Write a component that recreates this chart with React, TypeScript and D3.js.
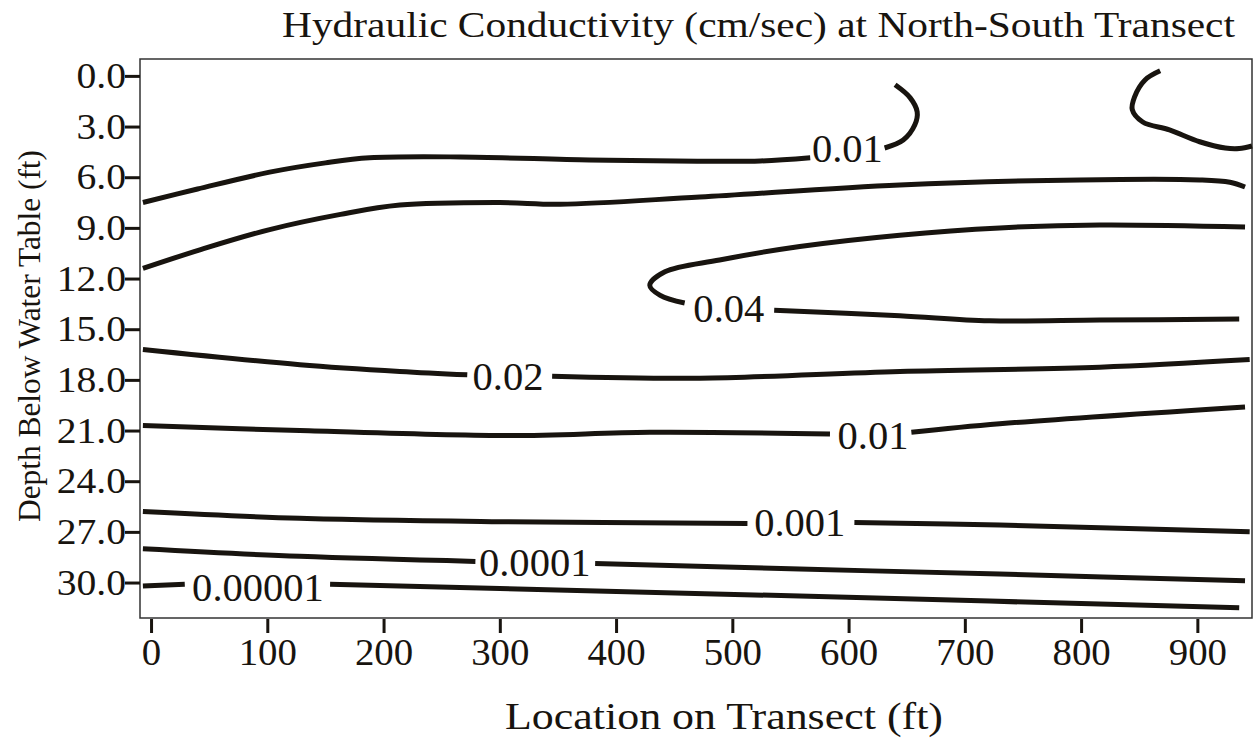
import React, { useRef, useEffect } from 'react';
import * as d3 from 'd3';

// contour pieces: [location ft, depth ft]
const line001Upper = [
  [[-7, 7.5], [40, 6.7], [102, 5.7], [150, 5.15], [188, 4.85], [266, 4.8], [377, 4.98], [470, 5.05], [524, 5.04], [567, 4.85]],
  [[631, 4.27], [647, 3.8], [657, 2.9], [659, 2.13], [653, 1.3], [640, 0.53]],
];
const lineTopRight = [
  [[868, -0.3], [855, 0.24], [846, 1.24], [844, 2.0], [853, 2.73], [876, 3.2], [902, 3.9], [924, 4.27], [936, 4.3], [947, 4.15]],
];
const lineUpperMid = [
  [[-7, 11.4], [42, 10.3], [102, 9.1], [163, 8.2], [214, 7.65], [300, 7.5], [352, 7.6], [472, 7.17], [644, 6.46], [799, 6.16], [902, 6.16], [928, 6.3], [941, 6.58]],
];
const line004 = [
  [[941, 8.95], [816, 8.83], [730, 9.0], [644, 9.43], [558, 10.1], [489, 10.9], [442, 11.6], [429, 12.4], [438, 13.0], [459, 13.45]],
  [[536, 13.87], [644, 14.2], [721, 14.5], [816, 14.46], [936, 14.4]],
];
const line002 = [
  [[-7, 16.2], [128, 17.1], [214, 17.5], [272, 17.7]],
  [[345, 17.78], [472, 17.9], [644, 17.5], [816, 17.25], [945, 16.8]],
];
const line001Lower = [
  [[-7, 20.7], [128, 21.0], [309, 21.3], [429, 21.1], [584, 21.2]],
  [[654, 21.1], [730, 20.6], [941, 19.6]],
];
const line0001 = [
  [[-7, 25.8], [128, 26.2], [300, 26.4], [513, 26.5]],
  [[605, 26.45], [730, 26.6], [945, 27.0]],
];
const line00001 = [
  [[-7, 28.0], [128, 28.45], [279, 28.75]],
  [[382, 28.87], [558, 29.2], [730, 29.5], [941, 29.9]],
];
const line000001 = [
  [[-7, 30.2], [29, 30.1]],
  [[154, 30.1], [300, 30.35], [558, 30.8], [936, 31.5]],
];

const contours = [line001Upper, lineTopRight, lineUpperMid, line004, line002, line001Lower, line0001, line00001, line000001];

const contourLabels = [
  { text: '0.01', x: 599, d: 4.27 },
  { text: '0.04', x: 497, d: 13.75 },
  { text: '0.02', x: 307, d: 17.78 },
  { text: '0.01', x: 621, d: 21.3 },
  { text: '0.001', x: 558, d: 26.45 },
  { text: '0.0001', x: 330, d: 28.8 },
  { text: '0.00001', x: 92, d: 30.3 },
];

const xTicks = [0, 100, 200, 300, 400, 500, 600, 700, 800, 900];
const yTicks = [0, 3, 6, 9, 12, 15, 18, 21, 24, 27, 30];

const App = () => {
  const svgRef = useRef(null);
  const width = 1253;
  const height = 741;

  useEffect(() => {
    const svg = d3.select(svgRef.current);
    svg.selectAll('*').remove();

    const ink = '#18140f';
    const font = '"Liberation Serif", "Times New Roman", serif';
    const left = 140, right = 1252, top = 59, bottom = 618;

    const x = d3.scaleLinear().domain([-9.5, 947]).range([left, right]);
    const y = d3.scaleLinear().domain([-1, 32.1]).range([top, bottom]);

    svg.append('rect')
      .attr('width', width).attr('height', height).attr('fill', '#fff');

    // frame
    svg.append('rect')
      .attr('x', left).attr('y', top)
      .attr('width', right - left).attr('height', bottom - top)
      .attr('fill', 'none').attr('stroke', '#333').attr('stroke-width', 1.5);

    const line = d3.line()
      .x(p => x(p[0]))
      .y(p => y(p[1]))
      .curve(d3.curveCatmullRom.alpha(0.5));

    contours.forEach(pieces => {
      pieces.forEach(piece => {
        svg.append('path')
          .attr('d', line(piece))
          .attr('fill', 'none')
          .attr('stroke', ink)
          .attr('stroke-width', 5)
          .attr('stroke-linecap', 'butt');
      });
    });

    // contour labels, a touch wider than the plain font
    svg.selectAll('.clabel')
      .data(contourLabels)
      .enter()
      .append('g')
      .attr('class', 'clabel')
      .attr('transform', d => `translate(${x(d.x)}, ${y(d.d)}) scale(1.04, 1)`)
      .append('text')
      .attr('dy', '0.35em')
      .attr('text-anchor', 'middle')
      .attr('font-family', font)
      .attr('font-size', 39)
      .attr('fill', ink)
      .text(d => d.text);

    // x axis
    const xAxis = d3.axisBottom(x).tickValues(xTicks).tickSize(14).tickSizeOuter(0).tickPadding(6);
    const gx = svg.append('g')
      .attr('transform', `translate(0, ${bottom + 1})`)
      .call(xAxis);
    gx.select('.domain').remove();
    gx.selectAll('line').attr('stroke', ink).attr('stroke-width', 3);
    gx.selectAll('text')
      .attr('font-family', font).attr('font-size', 37).attr('fill', ink)
      .attr('transform', 'scale(1.05, 1)');

    // y axis
    const sy = 1.1;
    const yAxis = d3.axisLeft(y).tickValues(yTicks).tickSize(15).tickPadding(0)
      .tickFormat(d3.format('.1f'));
    const gy = svg.append('g')
      .attr('transform', `translate(${left}, 0)`)
      .call(yAxis);
    gy.select('.domain').remove();
    gy.selectAll('line').attr('stroke', ink).attr('stroke-width', 3);
    gy.selectAll('text')
      .attr('x', -14 / sy)
      .attr('transform', `scale(${sy}, 1)`)
      .attr('font-family', font).attr('font-size', 36).attr('fill', ink);

    // titles
    svg.append('text')
      .attr('x', 282).attr('y', 37)
      .attr('textLength', 953).attr('lengthAdjust', 'spacingAndGlyphs')
      .attr('font-family', font).attr('font-size', 35).attr('fill', ink)
      .text('Hydraulic Conductivity (cm/sec) at North-South Transect');

    svg.append('text')
      .attr('x', 505).attr('y', 729)
      .attr('textLength', 438).attr('lengthAdjust', 'spacingAndGlyphs')
      .attr('font-family', font).attr('font-size', 37).attr('fill', ink)
      .text('Location on Transect (ft)');

    svg.append('text')
      .attr('transform', 'translate(40, 522) rotate(-90)')
      .attr('textLength', 372).attr('lengthAdjust', 'spacingAndGlyphs')
      .attr('font-family', font).attr('font-size', 31).attr('fill', ink)
      .text('Depth Below Water Table (ft)');
  }, []);

  return (
    <svg ref={svgRef} width={width} height={height}
      style={{ position: 'absolute', left: 0, top: 0 }} />
  );
};

export default App;
